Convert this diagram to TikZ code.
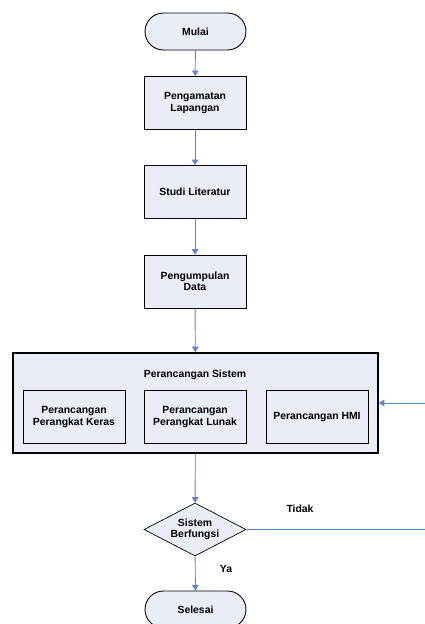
\documentclass[tikz,border=0pt]{standalone}
\usepackage{fontspec}
\setmainfont{Liberation Sans}
\usetikzlibrary{shapes.geometric,shapes.misc,arrows.meta,positioning}
\definecolor{boxfill}{HTML}{E8EDF7}
\definecolor{arrowblue}{HTML}{5B87C9}
\tikzset{
  lbl/.style={font=\bfseries\fontsize{10.4}{11.5}\selectfont, align=center},
  term/.style={lbl, draw=black, line width=0.9pt, fill=boxfill, rounded rectangle, minimum width=101pt, minimum height=37pt, inner sep=0pt},
  proc/.style={lbl, draw=black, line width=0.9pt, fill=boxfill, minimum width=102pt, minimum height=53pt, inner sep=0pt},
  outer/.style={draw=black, line width=1.6pt, fill=boxfill, minimum width=365pt, minimum height=100pt, inner sep=0pt},
  dec/.style={lbl, draw=black, line width=0.7pt, fill=boxfill, diamond, aspect=1.92, minimum width=102pt, minimum height=53pt, inner sep=0pt},
  flow/.style={draw=arrowblue, line width=0.9pt, -{Triangle[width=6.5pt,length=5.5pt]}},
}
\begin{document}
\begin{tikzpicture}[x=1pt,y=-1pt]
\useasboundingbox (0,0) rectangle (425,624);
\node[term] (mulai) at (195.5,31.5) {Mulai};
\node[proc] (p1) at (195,103) {Pengamatan\\Lapangan};
\node[proc] (p2) at (195,192) {Studi Literatur};
\node[proc] (p3) at (195,281.5) {Pengumpulan\\Data};
\node[outer] (sys) at (195.5,403) {};
\node[lbl] (systitle) at (195,375) {Perancangan Sistem};
\node[proc] (hw) at (74,417) {Perancangan\\Perangkat Keras};
\node[proc] (sw) at (195,417) {Perancangan\\Perangkat Lunak};
\node[proc] (hmi) at (317,417) {Perancangan HMI};
\node[dec] (dec) at (195,529.5) {Sistem\\Berfungsi};
\node[term] (selesai) at (195.5,609.5) {Selesai};
\node[lbl] (tidak) at (300,509) {Tidak};
\node[lbl] (ya) at (226,569) {Ya};
\coordinate (c1) at (432,529.5);
\draw[flow] (mulai) -- (p1);
\draw[flow] (p1) -- (p2);
\draw[flow] (p2) -- (p3);
\draw[flow] (p3) -- (sys);
\draw[flow] (sys) -- (dec);
\draw[flow] (dec) -- (selesai);
\draw[flow] (dec.east) -- (c1) |- (sys.east);
\end{tikzpicture}
\end{document}
